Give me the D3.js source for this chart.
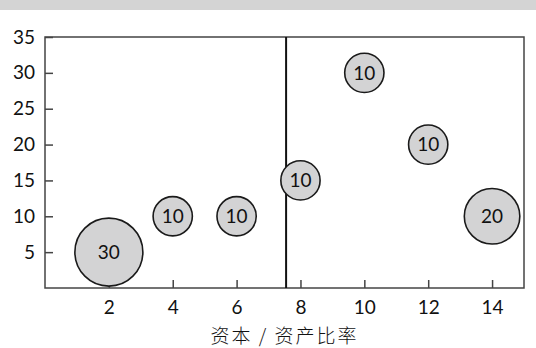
<!DOCTYPE html>
<html>
<head>
<meta charset="utf-8">
<script src="https://cdn.jsdelivr.net/npm/d3@7"></script>
<style>
  body { margin: 0; background: #fff; }
  text { font-family: Lato, "Noto Sans", sans-serif; fill: #111; }
</style>
</head>
<body>
<div id="chart"></div>
<script>
// Data
const ratios = [2, 4, 6, 8, 10, 12, 14];
const yValues = [5, 10, 10, 15, 30, 20, 10];
const sizes = [30, 10, 10, 10, 10, 10, 20];
const xTicks = [2, 4, 6, 8, 10, 12, 14];
const yTicks = [5, 10, 15, 20, 25, 30, 35];
const cutoff = 7.55;
const xTitle = "资本 / 资产比率";

const W = 536, H = 348;
const margin = { top: 37, right: 12, bottom: 60, left: 45 };
const width = W - margin.left - margin.right;
const height = H - margin.top - margin.bottom;

const svg = d3.select("#chart").append("svg")
  .attr("width", W)
  .attr("height", H);

// grey band along the top
svg.append("rect")
  .attr("x", 0).attr("y", 0)
  .attr("width", W).attr("height", 10)
  .attr("fill", "#d4d4d4");

const g = svg.append("g")
  .attr("transform", `translate(${margin.left},${margin.top})`);

const x = d3.scaleLinear().domain([0, 15]).range([0, width]);
const y = d3.scaleLinear().domain([0, 35]).range([height, 0]);
const r = d3.scaleSqrt().domain([0, 30]).range([0, 34]);

// x axis, ticks pointing inward
const xAxis = g.append("g")
  .attr("transform", `translate(0,${height})`)
  .call(d3.axisBottom(x).tickValues(xTicks).tickSizeInner(-8).tickSizeOuter(0).tickPadding(13));
xAxis.select(".domain").remove();
xAxis.selectAll(".tick line").attr("stroke", "#444").attr("stroke-width", 1.5);
xAxis.selectAll(".tick text").style("font-size", "19px").attr("fill", "#111");

// y axis
const yAxis = g.append("g")
  .call(d3.axisLeft(y).tickValues(yTicks).tickSizeInner(-8).tickSizeOuter(0).tickPadding(10));
yAxis.select(".domain").remove();
yAxis.selectAll(".tick line").attr("stroke", "#444").attr("stroke-width", 1.5);
yAxis.selectAll(".tick text").style("font-size", "19px").attr("fill", "#111");

// frame
g.append("rect")
  .attr("width", width).attr("height", height)
  .attr("fill", "none")
  .attr("stroke", "#444")
  .attr("stroke-width", 1.5);

// cutoff line
g.append("line")
  .attr("x1", x(cutoff)).attr("x2", x(cutoff))
  .attr("y1", 0).attr("y2", height)
  .attr("stroke", "#111")
  .attr("stroke-width", 2);

// bubbles
const data = ratios.map((d, i) => ({ x: d, y: yValues[i], s: sizes[i] }));

const bubble = g.selectAll(".bubble")
  .data(data)
  .join("g")
  .attr("class", "bubble")
  .attr("transform", d => `translate(${x(d.x)},${y(d.y)})`);

bubble.append("circle")
  .attr("r", d => r(d.s))
  .attr("fill", "#d3d3d4")
  .attr("stroke", "#1a1a1a")
  .attr("stroke-width", 1.6);

bubble.append("text")
  .attr("text-anchor", "middle")
  .attr("dy", "0.36em")
  .style("font-size", "19px")
  .text(d => d.s);

// axis title
svg.append("text")
  .attr("x", margin.left + width / 2)
  .attr("y", 343)
  .attr("text-anchor", "middle")
  .style("font-family", "'Noto Sans CJK SC', sans-serif")
  .style("font-weight", 300)
  .style("font-size", "19px")
  .style("letter-spacing", "2px")
  .attr("fill", "#333")
  .text(xTitle);
</script>
</body>
</html>
